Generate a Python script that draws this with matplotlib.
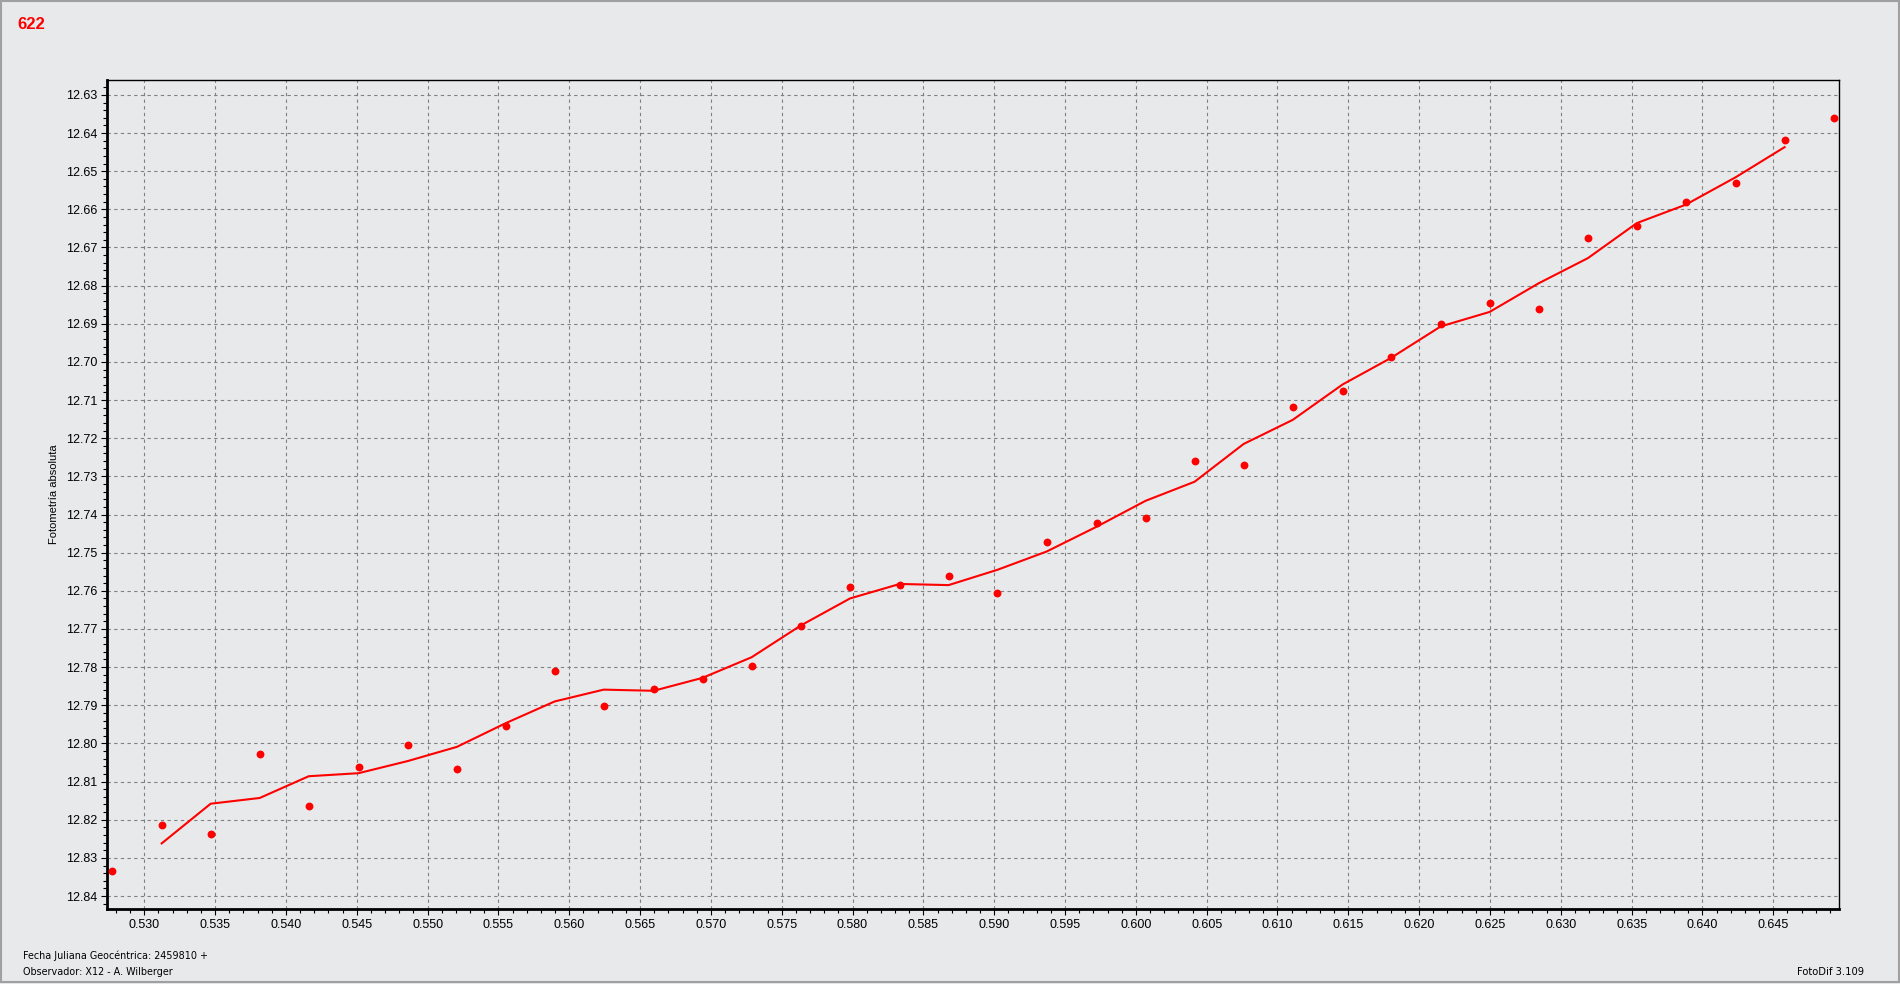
import matplotlib.pyplot as plt
import numpy as np
from matplotlib.ticker import MultipleLocator, FormatStrFormatter

# observaciones (fracción de día JD, magnitud)
jd = [0.52770, 0.53123, 0.53469, 0.53815, 0.54161, 0.54513, 0.54862, 0.55207,
      0.55551, 0.55897, 0.56243, 0.56596, 0.56942, 0.57288, 0.57634, 0.57982,
      0.58333, 0.58678, 0.59022, 0.59370, 0.59723, 0.60069, 0.60415, 0.60761,
      0.61107, 0.61460, 0.61799, 0.62152, 0.62497, 0.62843, 0.63191, 0.63537,
      0.63881, 0.64234, 0.64580, 0.64926]
mag = [12.8334, 12.8213, 12.8237, 12.8027, 12.8163, 12.8063, 12.8003, 12.8067,
       12.7954, 12.7809, 12.7901, 12.7857, 12.7831, 12.7797, 12.7691, 12.7589,
       12.7584, 12.7560, 12.7605, 12.7471, 12.7421, 12.7409, 12.7259, 12.7269,
       12.7117, 12.7075, 12.6986, 12.6900, 12.6845, 12.6860, 12.6674, 12.6645,
       12.6582, 12.6531, 12.6417, 12.6360]

# curva suavizada (de la 2a a la penúltima observación)
smooth = [12.8262, 12.8158, 12.8143, 12.8086, 12.8078, 12.8046, 12.8009,
          12.7947, 12.7890, 12.7859, 12.7862, 12.7828, 12.7774, 12.7691,
          12.7620, 12.7582, 12.7585, 12.7545, 12.7497, 12.7432, 12.7364,
          12.7314, 12.7215, 12.7152, 12.7059, 12.6990, 12.6907, 12.6869,
          12.6794, 12.6728, 12.6636, 12.6588, 12.6516, 12.6437]

bg = '#e8e9eb'
fig = plt.figure(figsize=(19, 9.84), dpi=100, facecolor=bg)
ax = fig.add_axes([0.05632, 0.07622, 0.91158, 0.84248], facecolor=bg)

ax.plot(jd[1:-1], smooth, color='#ff0000', lw=1.5, zorder=3)
ax.scatter(jd, mag, s=32, color='#ff0000', zorder=4, clip_on=False, linewidths=0)

ax.set_xlim(0.52737, 0.64964)
ax.set_ylim(12.8434, 12.6261)

ax.xaxis.set_major_locator(MultipleLocator(0.005))
ax.xaxis.set_minor_locator(MultipleLocator(0.001))
ax.yaxis.set_major_locator(MultipleLocator(0.01))
ax.yaxis.set_minor_locator(MultipleLocator(0.002))
ax.xaxis.set_major_formatter(FormatStrFormatter('%.3f'))
ax.yaxis.set_major_formatter(FormatStrFormatter('%.2f'))

ax.grid(True, which='major', color='#808080', linestyle=(0, (3, 3)), linewidth=0.8)
ax.tick_params(which='major', length=4, width=0.8, direction='out', labelsize=9,
               labelfontfamily='Liberation Sans', pad=3)
ax.tick_params(which='minor', length=3, width=0.8, direction='out')

for s in ['left', 'bottom']:
    ax.spines[s].set_linewidth(2)
for s in ['top', 'right']:
    ax.spines[s].set_linewidth(1)

ax.set_ylabel('Fotometría absoluta', fontsize=8, family='Liberation Sans')
ax.yaxis.set_label_coords(-0.028, 0.5)

fig.text(0.0093, 0.983, '622', color='#ff0000', fontsize=12, fontweight='bold',
         family='Liberation Sans', va='top', ha='left')
fig.text(0.0119, 0.0285, 'Fecha Juliana Geocéntrica: 2459810 +', fontsize=6.9,
         family='DejaVu Sans', va='center', ha='left')
fig.text(0.0119, 0.0119, 'Observador: X12 - A. Wilberger', fontsize=6.9,
         family='DejaVu Sans', va='center', ha='left')
fig.text(0.9810, 0.0119, 'FotoDif 3.109', fontsize=7.2, family='DejaVu Sans',
         va='center', ha='right')

# marco de la ventana
border = plt.Rectangle((0.0005, 0.002), 0.999, 0.997, transform=fig.transFigure,
                       fill=False, edgecolor='#a0a0a0', linewidth=1.5)
fig.patches.append(border)

fig.savefig('out.png', dpi=100, facecolor=bg)
